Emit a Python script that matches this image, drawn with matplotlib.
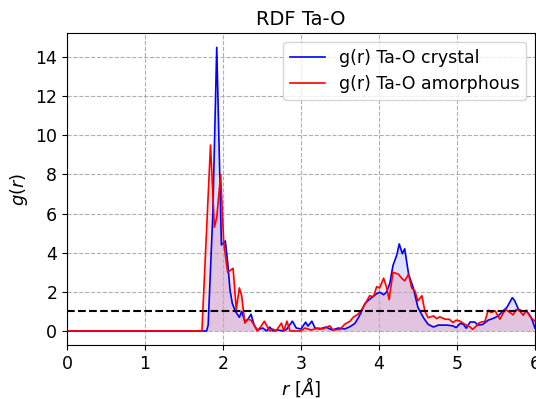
import matplotlib
matplotlib.use("Agg")
import matplotlib.pyplot as plt
import numpy as np

r_cry = [0, 1.79, 1.81, 1.87, 1.92, 1.98, 2.03, 2.06, 2.09, 2.12, 2.16, 2.21, 2.24, 2.28, 2.32, 2.36,
         2.40, 2.44, 2.51, 2.56, 2.60, 2.64, 2.70, 2.78, 2.82, 2.89, 2.94, 3.00, 3.06, 3.09, 3.14, 3.18,
         3.24, 3.32, 3.40, 3.48, 3.56, 3.62, 3.69, 3.74, 3.78, 3.82, 3.86, 3.93, 3.97, 4.01, 4.06, 4.10,
         4.14, 4.18, 4.23, 4.26, 4.30, 4.33, 4.38, 4.44, 4.50, 4.57, 4.63, 4.70, 4.76, 4.87, 4.95, 4.99,
         5.04, 5.08, 5.12, 5.17, 5.23, 5.27, 5.33, 5.40, 5.47, 5.53, 5.60, 5.64, 5.71, 5.74, 5.79, 5.85,
         5.89, 5.94, 5.97, 6.00]
g_cry = [0, 0, 0.3, 6.0, 14.5, 4.4, 4.6, 3.5, 2.1, 1.4, 1.0, 0.7, 1.0, 0.5, 0.6, 0.85,
         0.3, 0.05, 0.15, 0.0, 0.2, 0.0, 0.05, 0.0, 0.1, 0.5, 0.15, 0.1, 0.45, 0.25, 0.5, 0.15,
         0.1, 0.2, 0.05, 0.15, 0.1, 0.2, 0.38, 0.7, 1.03, 1.4, 1.55, 1.78, 1.9, 1.98, 1.85, 2.0,
         2.45, 3.35, 3.9, 4.45, 3.95, 4.2, 2.9, 2.2, 1.2, 0.68, 0.34, 0.2, 0.3, 0.3, 0.26, 0.17,
         0.38, 0.35, 0.14, 0.46, 0.45, 0.3, 0.33, 0.55, 0.65, 0.77, 1.06, 1.2, 1.7, 1.55, 1.1, 1.0,
         1.02, 0.77, 0.5, 0.15]

r_amo = [0, 1.73, 1.84, 1.89, 1.92, 1.97, 2.01, 2.06, 2.13, 2.17, 2.21, 2.24, 2.28, 2.32, 2.36, 2.40,
         2.44, 2.49, 2.53, 2.60, 2.64, 2.68, 2.75, 2.78, 2.82, 2.86, 3.00, 3.05, 3.13, 3.22, 3.28, 3.37,
         3.41, 3.50, 3.56, 3.63, 3.67, 3.73, 3.78, 3.84, 3.88, 3.93, 3.97, 4.01, 4.06, 4.10, 4.13, 4.18,
         4.25, 4.29, 4.33, 4.38, 4.42, 4.46, 4.50, 4.55, 4.59, 4.63, 4.70, 4.74, 4.78, 4.85, 4.90, 4.95,
         4.99, 5.04, 5.10, 5.17, 5.20, 5.25, 5.29, 5.36, 5.40, 5.44, 5.49, 5.55, 5.62, 5.66, 5.72, 5.76,
         5.81, 5.85, 5.89, 5.94, 6.00]
g_amo = [0, 0, 9.5, 5.3, 5.8, 8.0, 4.5, 3.0, 3.2, 1.1, 2.2, 1.8, 0.4, 0.6, 0.55, 0.3,
         0.0, 0.25, 0.5, 0.0, 0.1, 0.0, 0.4, 0.0, 0.5, 0.0, 0.0, 0.15, 0.05, 0.15, 0.1, 0.26,
         0.05, 0.08, 0.34, 0.5, 0.7, 0.85, 1.1, 1.5, 1.8, 1.75, 2.26, 2.2, 2.7, 2.2, 1.6, 3.0,
         2.9, 2.7, 2.56, 2.9, 2.2, 2.05, 1.54, 1.8, 1.0, 0.68, 0.77, 0.63, 0.72, 0.6, 0.6, 0.43,
         0.55, 0.5, 0.34, 0.2, 0.08, 0.26, 0.43, 0.5, 1.06, 0.94, 1.03, 0.6, 1.1, 1.0, 0.82, 1.1,
         1.0, 0.8, 1.06, 0.72, 0.5]

fig = plt.figure(figsize=(5.36, 3.99), dpi=100)
ax = fig.add_axes([0.125, 0.135, 0.873, 0.782])

ax.plot(r_cry, g_cry, color='blue', lw=1.2, label='g(r) Ta-O crystal')
ax.fill_between(r_cry, g_cry, 0, color='blue', alpha=0.12, lw=0)
ax.plot(r_amo, g_amo, color='red', lw=1.2, label='g(r) Ta-O amorphous')
ax.fill_between(r_amo, g_amo, 0, color='red', alpha=0.12, lw=0)
ax.axhline(1.0, color='black', ls='--', lw=1.5)

ax.set_xlim(0, 6)
ax.set_ylim(-0.725, 15.225)
ax.set_xticks(range(0, 7))
ax.set_yticks(range(0, 15, 2))
ax.tick_params(labelsize=12.5)
ax.grid(True, ls='--', color='#b0b0b0', lw=0.8)
ax.set_title('RDF Ta-O', fontsize=14)
ax.set_xlabel(r'$r$ [$\AA$]', fontsize=13, labelpad=2)
ax.set_ylabel(r'$g(r)$', fontsize=13)
ax.legend(loc='upper right', fontsize=12.5)

fig.savefig('out.png', dpi=100)
